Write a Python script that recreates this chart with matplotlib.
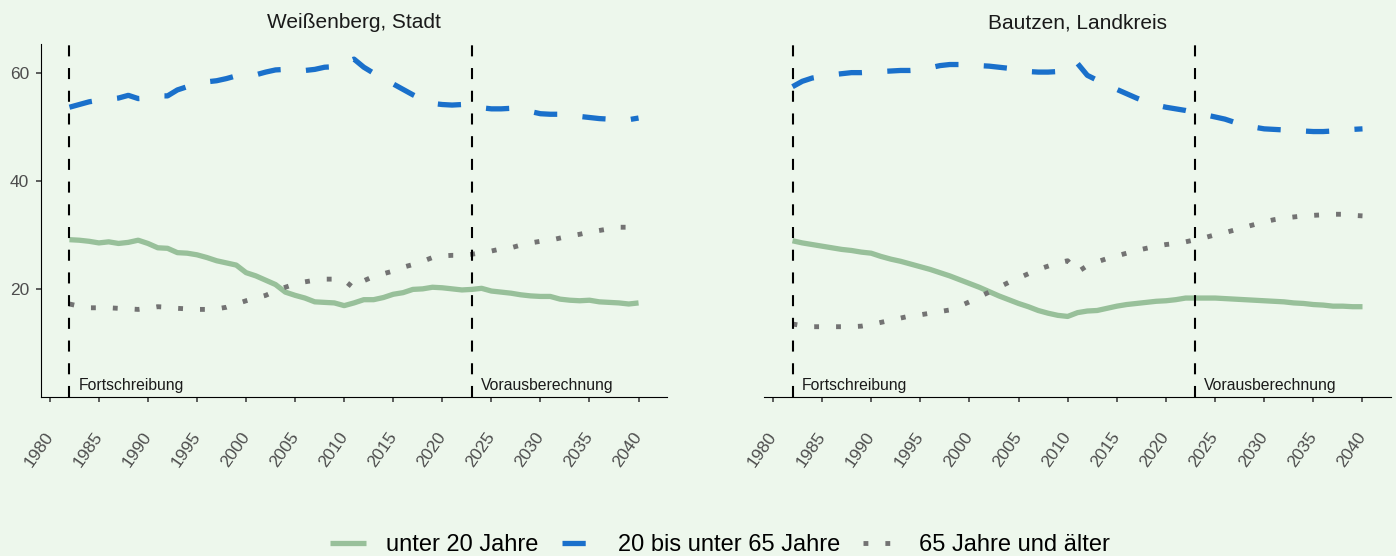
import matplotlib
matplotlib.use("Agg")
from matplotlib import pyplot as plt

plt.rcParams['font.family'] = ['Liberation Sans', 'DejaVu Sans']

years = list(range(1982, 2041))
xticks = list(range(1980, 2041, 5))
yticks = [20, 40, 60]
grenzen = [1982, 2023]
grenz_text = ['Fortschreibung', 'Vorausberechnung']
reihen = ['unter 20 Jahre', '20 bis unter 65 Jahre', '65 Jahre und älter']
titel = ['Weißenberg, Stadt', 'Bautzen, Landkreis']

# Weißenberg, Stadt (Anteile in %)
w_u20 = [29.1, 29.0, 28.8, 28.5, 28.7, 28.4, 28.6, 29.0, 28.4, 27.6,
         27.5, 26.7, 26.6, 26.3, 25.8, 25.2, 24.8, 24.4, 23.0, 22.4,
         21.6, 20.8, 19.4, 18.8, 18.3, 17.6, 17.5, 17.4, 16.9, 17.4,
         18.0, 18.0, 18.4, 19.0, 19.3, 19.9, 20.0, 20.3, 20.2, 20.0,
         19.8, 19.9, 20.1, 19.6, 19.4, 19.2, 18.9, 18.7, 18.6, 18.6,
         18.1, 17.9, 17.8, 17.9, 17.6, 17.5, 17.4, 17.2, 17.4]
w_20_65 = [53.6, 54.1, 54.6, 54.9, 55.1, 55.3, 55.8, 55.2, 55.3, 55.7,
           55.7, 56.8, 57.4, 57.9, 58.3, 58.5, 58.9, 59.4, 59.4, 59.6,
           60.1, 60.5, 60.6, 60.6, 60.4, 60.6, 61.0, 61.1, 61.8, 62.5,
           61.0, 59.9, 58.8, 57.9, 56.9, 55.9, 55.0, 54.3, 54.1, 54.0,
           54.1, 53.7, 53.5, 53.3, 53.3, 53.4, 53.1, 52.8, 52.4, 52.3,
           52.3, 52.1, 51.9, 51.7, 51.5, 51.4, 51.4, 51.3, 51.6]
w_65 = [17.2, 16.8, 16.5, 16.5, 16.5, 16.4, 16.3, 16.2, 16.4, 16.7,
        16.6, 16.4, 16.3, 16.2, 16.2, 16.3, 16.6, 17.2, 17.8, 18.3,
        18.8, 19.6, 20.3, 20.9, 21.3, 21.6, 21.8, 21.8, 21.6, 20.1,
        21.5, 22.3, 22.8, 23.3, 24.0, 24.5, 25.1, 25.8, 26.1, 26.2,
        26.2, 26.4, 26.7, 27.0, 27.4, 27.6, 28.1, 28.5, 28.8, 29.0,
        29.4, 29.8, 30.1, 30.5, 30.8, 31.1, 31.4, 31.4, 31.3]

# Bautzen, Landkreis
b_u20 = [28.9, 28.5, 28.2, 27.9, 27.6, 27.3, 27.1, 26.8, 26.6, 26.0,
         25.5, 25.1, 24.6, 24.1, 23.6, 23.0, 22.4, 21.7, 21.0, 20.3,
         19.5, 18.7, 18.0, 17.3, 16.7, 16.0, 15.5, 15.1, 14.9, 15.6,
         15.9, 16.0, 16.4, 16.8, 17.1, 17.3, 17.5, 17.7, 17.8, 18.0,
         18.3, 18.3, 18.3, 18.3, 18.2, 18.1, 18.0, 17.9, 17.8, 17.7,
         17.6, 17.4, 17.3, 17.1, 17.0, 16.8, 16.8, 16.7, 16.7]
b_20_65 = [57.4, 58.4, 59.0, 59.3, 59.6, 59.8, 60.0, 60.0, 60.1, 60.2,
           60.3, 60.4, 60.4, 60.5, 60.9, 61.3, 61.5, 61.5, 61.5, 61.3,
           61.2, 61.0, 60.8, 60.5, 60.2, 60.1, 60.1, 60.2, 60.3, 61.7,
           59.5, 58.6, 57.7, 56.9, 56.1, 55.3, 54.6, 54.0, 53.6, 53.3,
           53.0, 52.6, 52.2, 51.8, 51.4, 50.8, 50.2, 49.9, 49.6, 49.5,
           49.4, 49.3, 49.2, 49.1, 49.1, 49.2, 49.4, 49.5, 49.6]
b_65 = [13.5, 13.2, 13.0, 13.0, 13.0, 13.0, 13.0, 13.1, 13.4, 13.8,
        14.2, 14.6, 15.0, 15.2, 15.5, 15.8, 16.1, 16.8, 17.6, 18.5,
        19.4, 20.3, 21.2, 22.0, 22.8, 23.6, 24.2, 24.8, 25.2, 23.1,
        24.3, 25.0, 25.6, 26.1, 26.6, 27.1, 27.5, 27.9, 28.2, 28.4,
        28.7, 29.1, 29.5, 30.0, 30.4, 30.9, 31.4, 31.9, 32.4, 32.8,
        33.1, 33.3, 33.5, 33.6, 33.7, 33.8, 33.8, 33.6, 33.5]

bg = '#EDF7EC'
farben = ['#98C09A', '#1A70CB', '#737373']
stile = [dict(linestyle='-'),
         dict(linestyle=(0, (4.4, 4.8))),
         dict(linestyle=(0, (1.0, 3.5)))]
breiten = [3.8, 3.8, 3.5]

fig = plt.figure(figsize=(13.96, 5.56), dpi=100, facecolor=bg)
ax1 = fig.add_axes([41 / 1396, 0.286, 626 / 1396, 0.6349])
ax2 = fig.add_axes([764 / 1396, 0.286, 627 / 1396, 0.6349], sharey=ax1)

daten = [[w_u20, w_20_65, w_65], [b_u20, b_20_65, b_65]]
handles = []
for i, ax in enumerate([ax1, ax2]):
    ax.set_facecolor(bg)
    for j, werte in enumerate(daten[i]):
        h, = ax.plot(years, werte, color=farben[j], lw=breiten[j],
                     solid_capstyle='butt', dash_capstyle='butt', **stile[j])
        if i == 0:
            handles.append(h)
    for g, t in zip(grenzen, grenz_text):
        ax.axvline(g, color='black', lw=1.5, linestyle=(0, (5.3, 5.6)))
        ax.text(g + 0.9, 0.7, t, fontsize=11.3, ha='left', va='bottom',
                color='#1A1A1A')
    ax.set_xlim(1979.1, 2042.9)
    ax.set_ylim(0, 65.3)
    ax.set_xticks(xticks)
    ax.set_xticklabels([str(x) for x in xticks], rotation=55, ha='right',
                       va='center', rotation_mode='anchor', fontsize=12.5,
                       color='#4D4D4D')
    ax.tick_params(axis='x', length=3.5, width=1.1, color='#333333', pad=23)
    ax.set_title(titel[i], fontsize=15, pad=11.5, color='#1A1A1A')
    for s in ['top', 'right']:
        ax.spines[s].set_visible(False)
    ax.spines['bottom'].set_linewidth(0.8)

ax1.set_yticks(yticks)
ax1.tick_params(axis='y', length=3.5, width=1.1, color='#333333', pad=5,
                labelsize=12.5, labelcolor='#4D4D4D')
ax1.spines['left'].set_linewidth(0.8)
ax2.spines['left'].set_visible(False)
ax2.tick_params(axis='y', left=False, labelleft=False)

fig.legend(handles, reihen, loc='center', bbox_to_anchor=(720 / 1396, 1 - 545 / 556),
           ncol=3, frameon=False, fontsize=17, handlelength=1.53,
           handletextpad=0.85, columnspacing=0.97)

fig.savefig('out.png', dpi=100, facecolor=bg)
